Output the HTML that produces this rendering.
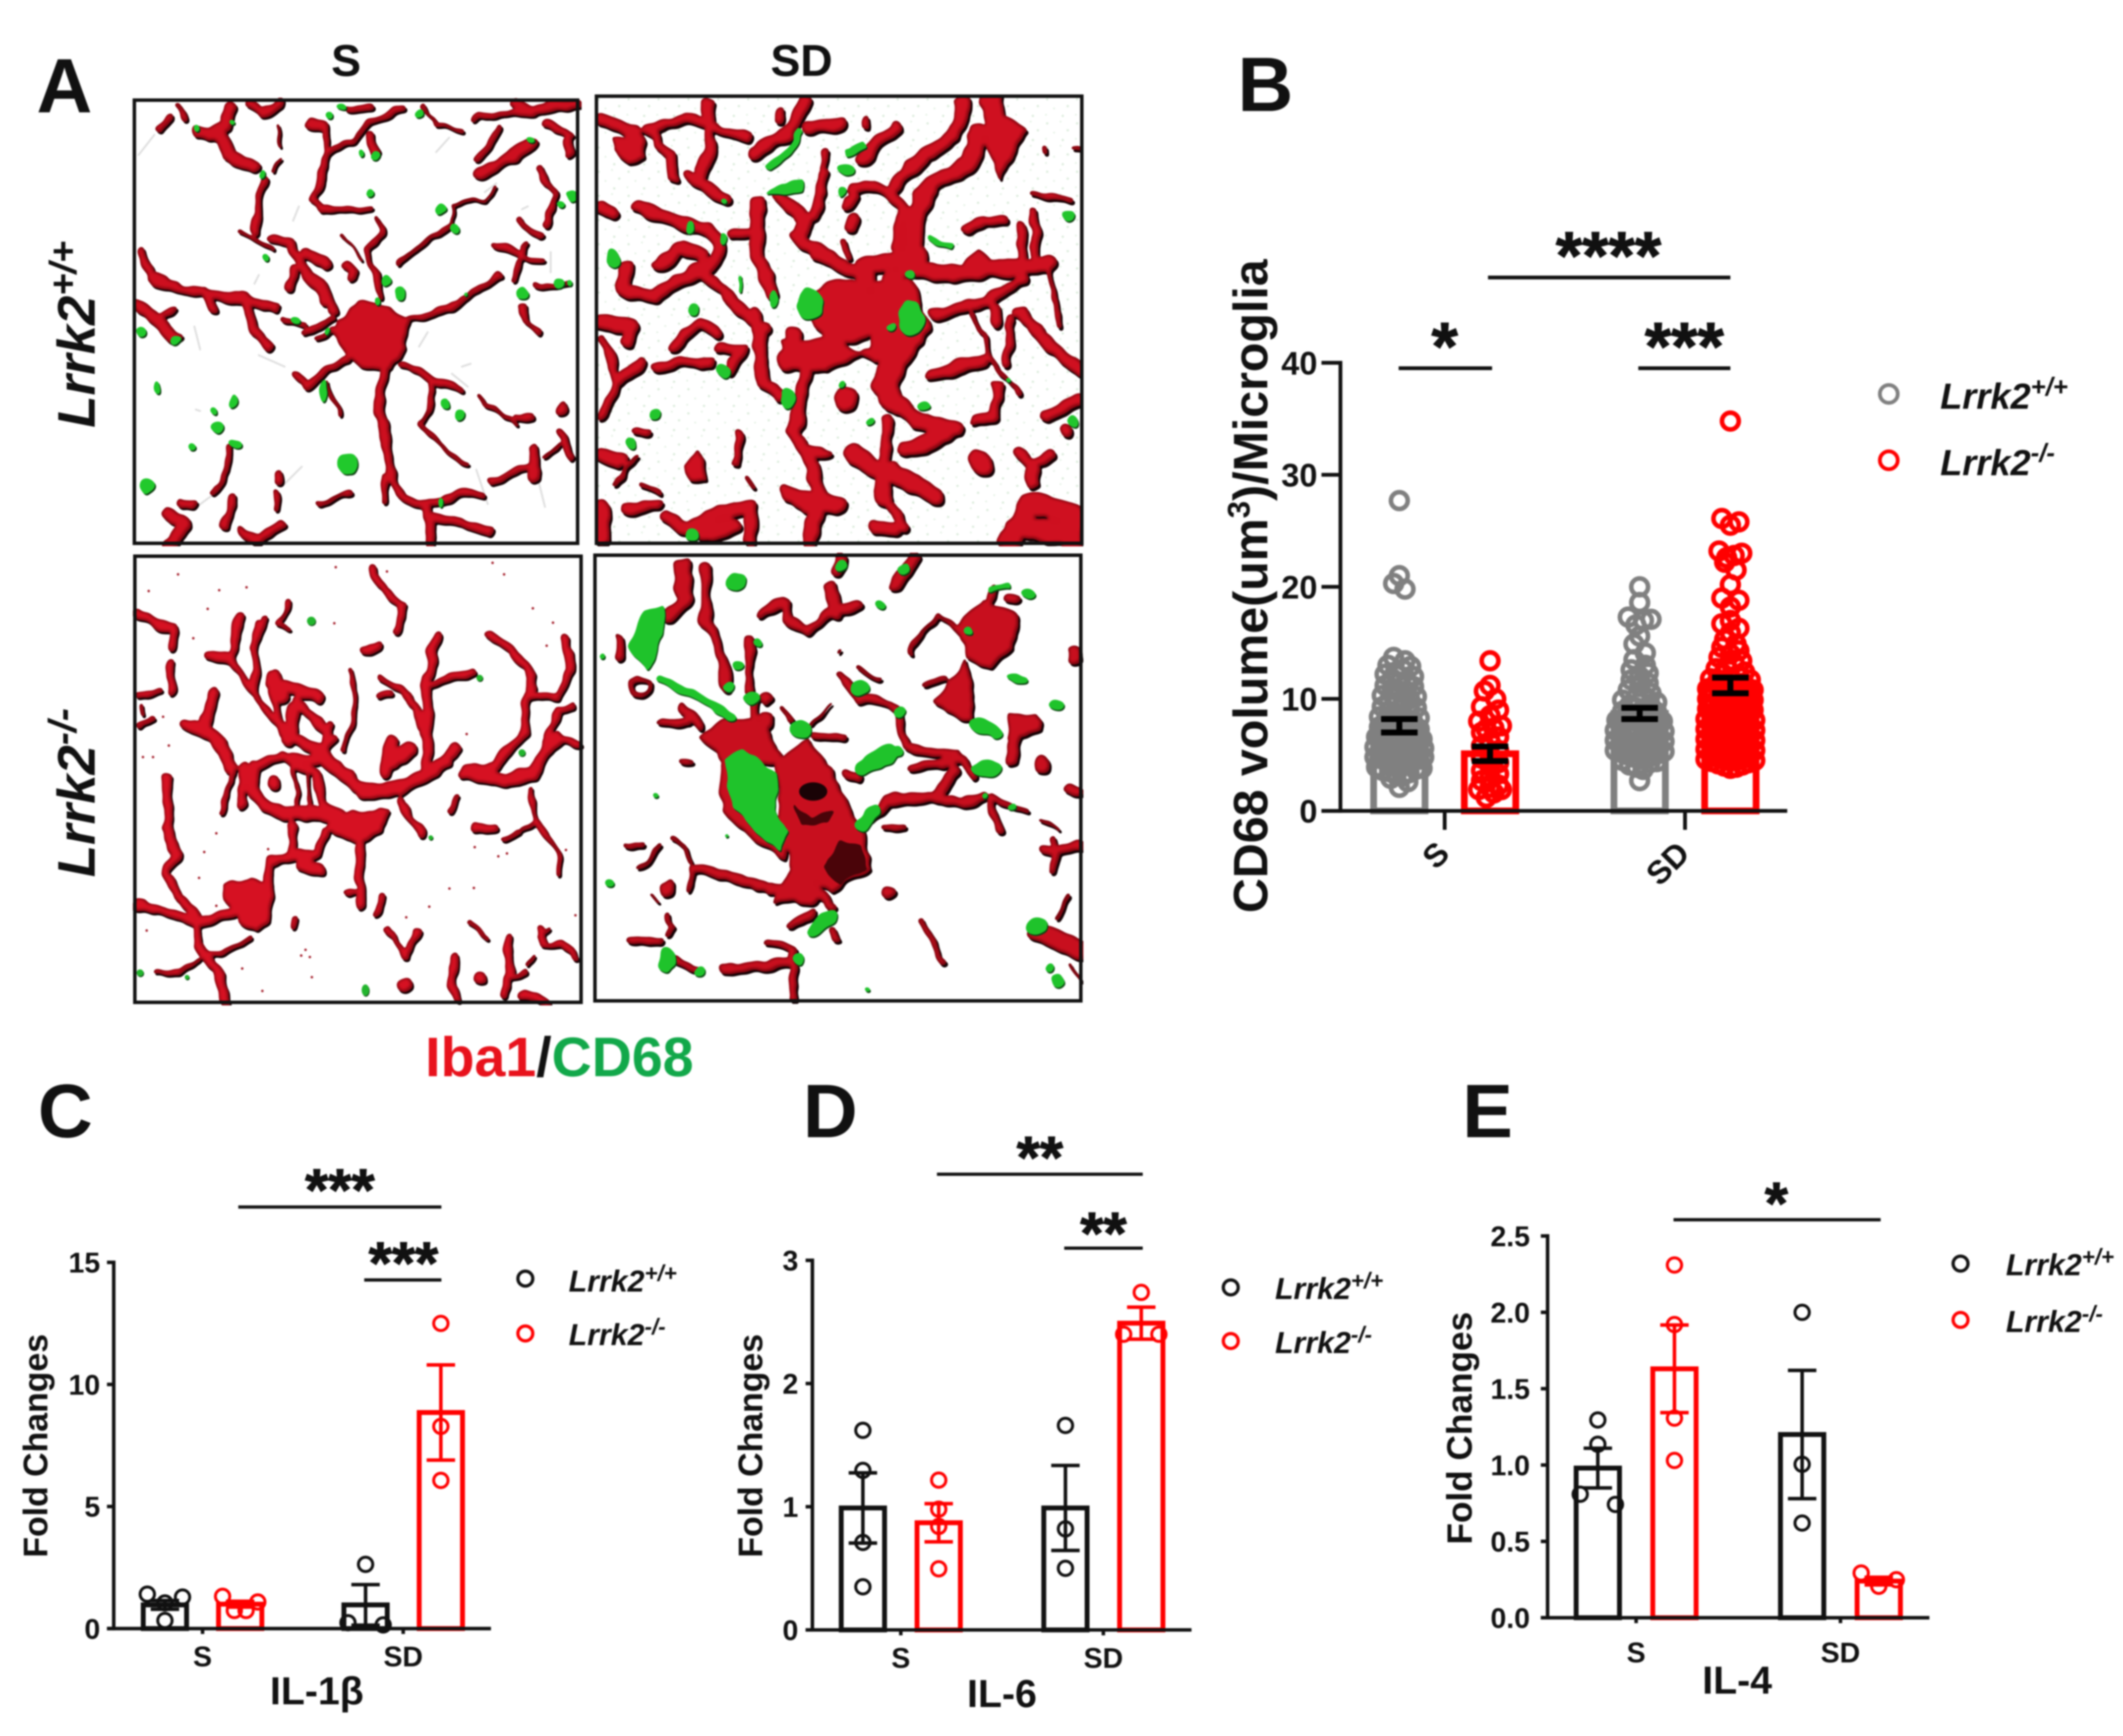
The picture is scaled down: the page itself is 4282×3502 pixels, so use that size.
<!DOCTYPE html>
<html lang="en">
<head>
<meta charset="utf-8">
<title>Microglia Iba1/CD68 figure</title>
<style>
html,body{margin:0;padding:0;background:#fff;}
body{width:4282px;height:3502px;overflow:hidden;}
svg{display:block;filter:blur(1.6px);}
text{font-family:"Liberation Sans",sans-serif;font-weight:bold;fill:#111;}
.it{font-style:italic;}
.star{stroke:#111;stroke-width:0.7;}
</style>
</head>
<body>
<svg id="figure" xmlns="http://www.w3.org/2000/svg" width="4282" height="3502" viewBox="0 0 4282 3502">
<rect width="4282" height="3502" fill="#fff"/>
<defs>
<filter id="organic" filterUnits="userSpaceOnUse" x="-20" y="-20" width="1610" height="1610" color-interpolation-filters="sRGB">
<feTurbulence type="fractalNoise" baseFrequency="0.014" numOctaves="2" seed="4" result="n"/>
<feDisplacementMap in="SourceGraphic" in2="n" scale="34" xChannelSelector="R" yChannelSelector="G" result="d"/>
<feGaussianBlur in="d" stdDeviation="4" result="b"/>
<feComponentTransfer in="b"><feFuncA type="linear" slope="8" intercept="-3"/></feComponentTransfer>
</filter>
<filter id="organicInner" filterUnits="userSpaceOnUse" x="-20" y="-20" width="1610" height="1610" color-interpolation-filters="sRGB">
<feTurbulence type="fractalNoise" baseFrequency="0.014" numOctaves="2" seed="4" result="n"/>
<feDisplacementMap in="SourceGraphic" in2="n" scale="34" xChannelSelector="R" yChannelSelector="G" result="d"/>
<feGaussianBlur in="d" stdDeviation="4" result="b"/>
<feComponentTransfer in="b" result="t"><feFuncA type="linear" slope="8" intercept="-3"/></feComponentTransfer>
<feMorphology in="t" operator="erode" radius="5" result="e"/>
<feGaussianBlur in="e" stdDeviation="4"/>
</filter>
<pattern id="speckGreen" width="96" height="84" patternUnits="userSpaceOnUse">
<circle cx="12" cy="14" r="4" fill="#dcecdc"/><circle cx="55" cy="8" r="3" fill="#e2f0e2"/><circle cx="78" cy="38" r="4" fill="#dcecdc"/><circle cx="34" cy="46" r="3" fill="#e2f0e2"/><circle cx="8" cy="68" r="3" fill="#e2f0e2"/><circle cx="62" cy="72" r="4" fill="#dcecdc"/>
</pattern>
<clipPath id="clip1"><rect x="0" y="0" width="1568" height="1568"/></clipPath>
<clipPath id="clip2"><rect x="0" y="0" width="1568" height="1568"/></clipPath>
<clipPath id="clip3"><rect x="0" y="0" width="1568" height="1568"/></clipPath>
<clipPath id="clip4"><rect x="0" y="0" width="1568" height="1568"/></clipPath>

<g id="p1red" fill="none" stroke="currentColor" stroke-linecap="round" stroke-linejoin="round">
<path fill="currentColor" stroke-width="10" d="M720,780L790,715L900,730L955,790L945,870L900,950L800,940L745,900L705,820Z"/>
<path stroke-width="10" d="M1115,450L1115,370L1230,360L1260,310M800,570L760,520L725,480M505,100L515,170M495,260L515,210M1430,1250L1490,1210"/>
<path stroke-width="15" d="M925,575L1060,480L1115,450M680,1000L730,1110M380,470L490,530M1040,990C1060,1060 1040,1120 1000,1140C1060,1170 1090,1250 1170,1285M1200,1040L1340,1150M1010,30L1060,90L1150,120M1400,655L1530,655M650,1420L755,1385M340,1220L320,1300L280,1390M640,840L700,810"/>
<path stroke-width="20" d="M955,775C1050,760 1130,730 1200,680L1280,625M870,700C860,640 830,600 825,530C860,480 890,470 850,425M700,770L590,830M530,770L600,800M620,80L680,100L680,180L650,300L630,350L660,395L740,385L830,385M680,190L770,150L830,90L940,35M1190,80L1210,60L1400,50M1200,220L1280,110M1420,250L1440,300L1480,340L1440,440M1270,510L1360,550L1430,570M1380,510L1350,570L1330,630M1360,730L1370,780L1420,825M1330,1120L1400,1110M880,1320L880,1410M500,1380L505,1440M150,30L180,75M90,110L130,70M100,770L140,740M740,40L830,35"/>
<path stroke-width="25" d="M430,470C420,400 450,340 465,290M745,920L680,950L610,1010L570,960M940,930L1050,990L1150,1025M740,585L770,600L770,630M1010,1420L1080,1410C1120,1380 1170,1360 1220,1390M1250,1340L1400,1280M1350,430L1420,480M1440,90L1530,130M1490,1170L1540,1260"/>
<path stroke-width="32" d="M880,960C860,1040 850,1100 870,1130C890,1200 890,1280 900,1330C930,1390 960,1410 1010,1420C1040,1470 1040,1520 1040,1560M1040,1470L1150,1480L1240,1520M700,740C680,680 660,640 600,600L550,510L490,490M560,600L545,660M30,530L60,630L180,670L350,700L500,735M380,700L420,800L480,870M250,680L280,740M400,20L450,55L515,20M380,1510L440,1550L520,1490M350,1400L320,1500M170,1420L210,1420M1400,1230L1410,1330M1340,20L1400,40L1550,20M1520,150L1520,200M830,140L850,190M505,1320L505,1335"/>
<path stroke-width="42" d="M610,545L680,580M10,720L100,790L150,840M225,120L300,130L340,200L420,240M340,40L320,100L270,130M620,90L670,100M1215,265L1320,210L1390,160M120,1450L180,1490L130,1560M1500,1085L1502,1088M600,610L670,700"/>
</g>
<g id="p1green" fill="currentColor">
<circle cx="825" cy="325" r="14"/><circle cx="1070" cy="388" r="18"/><circle cx="1125" cy="460" r="15"/><ellipse cx="930" cy="688" rx="15" ry="20"/><circle cx="885" cy="640" r="17"/><circle cx="855" cy="712" r="12"/><circle cx="570" cy="777" r="15"/><ellipse cx="670" cy="1030" rx="15" ry="40"/><circle cx="1090" cy="1068" r="14"/><circle cx="1135" cy="1103" r="20"/><circle cx="750" cy="1280" r="35"/><circle cx="295" cy="1150" r="22"/><ellipse cx="360" cy="1210" rx="20" ry="14"/><ellipse cx="352" cy="1060" rx="12" ry="25"/><circle cx="283" cy="1095" r="12"/><circle cx="205" cy="1220" r="13"/><ellipse cx="85" cy="1015" rx="12" ry="22"/><ellipse cx="55" cy="1355" rx="22" ry="30"/><circle cx="30" cy="820" r="20"/><circle cx="150" cy="850" r="17"/><circle cx="1360" cy="683" r="18"/><circle cx="1490" cy="648" r="18"/><circle cx="1530" cy="655" r="10"/><circle cx="1530" cy="340" r="20"/><circle cx="1495" cy="375" r="12"/><circle cx="1385" cy="148" r="12"/><circle cx="1003" cy="55" r="15"/><circle cx="725" cy="37" r="12"/><circle cx="690" cy="60" r="10"/><circle cx="850" cy="200" r="15"/><circle cx="800" cy="195" r="12"/><circle cx="228" cy="110" r="13"/><circle cx="345" cy="90" r="10"/><circle cx="455" cy="272" r="13"/><circle cx="462" cy="557" r="12"/><ellipse cx="1077" cy="1415" rx="10" ry="18"/><circle cx="1168" cy="690" r="8"/><circle cx="682" cy="813" r="9"/>
</g>
<path id="p1smudge" fill="none" stroke="#e0e0e0" stroke-width="7" stroke-linecap="round" d="M20,200L75,130M440,620L425,650M1060,190L1105,140M1230,330L1270,300M440,900L530,940M1000,870L1030,820M1170,1010L1115,965M1200,1300L1240,1420M530,1350L590,1290M210,1440L290,1380M1420,1350L1440,1430M1460,540L1460,610M560,430L580,380M1150,940L1180,930M1380,380L1360,390M215,800L235,880M220,1090L235,1095"/>

<g id="p2red" fill="none" stroke="currentColor" stroke-linecap="round" stroke-linejoin="round">
<path fill="currentColor" stroke-width="8" d="M1260,40L1380,120L1300,290L1260,170ZM60,150L150,140L160,220L110,235L60,190ZM1190,580L1230,540L1280,590ZM290,1290L330,1240L355,1330L300,1330ZM600,860L760,840L900,930L1010,900L1060,760L1010,640L900,650L880,880L740,960L610,950Z"/>
<path stroke-width="16" d="M1210,760L1290,950L1370,1040M1460,620L1490,800M1410,345L1520,360M150,1355L210,1380M65,1350L130,1260M1530,190L1550,190M870,80L865,120M480,1330L510,1360M1445,180L1445,195"/>
<path stroke-width="24" d="M1340,780L1320,930M1410,400L1420,570M460,1170L450,1280M800,510L820,560M20,850L60,930L70,1000L20,1120M130,1160L170,1170M590,50L590,90M740,200L735,250"/>
<path stroke-width="34" d="M820,320C900,300 960,330 985,400L970,530M1370,450L1380,590M1090,760L1250,720L1370,640M1290,1010L1280,1120L1220,1130M940,1130L930,1280M950,1430L990,1500M660,1220L740,1250M440,480L520,470M360,30L370,180L340,280M170,120L290,80L380,110L490,145M170,120L240,210L250,290M700,420L740,270M80,990L150,930M250,870L340,790L400,830M200,950L280,920L370,930M400,880L480,880L430,950M100,1440L200,1420M1360,1240L1410,1280L1460,1240M1410,1280L1410,1350M1190,470L1250,430L1310,440M1510,1160L1515,1180M830,430L825,460M810,380L830,350"/>
<path stroke-width="44" d="M1180,20C1190,90 1150,160 1060,200L1000,260L960,320M1280,740L1290,790M1080,970L1250,920M680,960L640,1170L700,1290L720,1400L690,1550M520,760L540,1000L590,1040M350,620L470,750L540,810M520,370L520,560L570,690M310,280L350,320L420,360M140,390L300,450L370,470C420,540 400,590 330,610L260,650L190,700L90,670L95,600M280,530L340,560M210,590L260,530M590,345L680,440L650,490L730,560L850,620M510,200L620,130L680,20M690,110L790,100M860,220L960,110M20,85L130,125M20,390L60,405M20,790L120,800L100,860M20,1250L80,1270M1450,1110L1560,1060M1370,760L1450,860L1560,960M610,1380L680,1430M900,1500L960,1510M230,1470L300,1510L400,1450L500,1430L500,1550"/>
<path stroke-width="58" d="M1230,130L1200,240L1080,310L1030,400L1020,520L1000,600M1120,620L1300,600L1450,590M1020,600L1120,620M1040,560L870,590L870,660M830,1240L920,1320L930,1400M960,1060L1040,1130L1160,1160L1000,1230M960,1310L1090,1390M620,1390L780,1430M640,830L640,900M20,1430L20,1540M340,1510L440,1500"/>
<path stroke-width="76" d="M960,640L960,730M1040,800C1000,870 950,930 930,1010L960,1070M760,880L620,920M1330,1550L1400,1420L1530,1450L1530,1550M1400,1510L1490,1520M1270,20L1300,160M805,1050L805,1055M1240,1270L1240,1280"/>
<circle cx="800" cy="750" r="112" fill="currentColor" stroke="none"/>
</g>
<g id="p2green" fill="currentColor">
<ellipse cx="690" cy="725" rx="38" ry="55"/><ellipse cx="1015" cy="775" rx="45" ry="65"/><ellipse cx="60" cy="565" rx="20" ry="40"/><ellipse cx="318" cy="742" rx="20" ry="22"/><ellipse cx="310" cy="462" rx="15" ry="20"/><ellipse cx="410" cy="500" rx="12" ry="25"/><circle cx="408" cy="960" r="22"/><ellipse cx="620" cy="1050" rx="22" ry="35"/><circle cx="195" cy="1108" r="16"/><ellipse cx="112" cy="1205" rx="16" ry="22"/><circle cx="310" cy="1530" r="20"/><path d="M535,345L600,300L660,295L660,340L590,340Z"/><path d="M560,250L620,190L665,120" fill="none" stroke="currentColor" stroke-width="22"/><path d="M810,200L870,170" fill="none" stroke="currentColor" stroke-width="24"/><ellipse cx="810" cy="255" rx="25" ry="18"/><ellipse cx="790" cy="335" rx="12" ry="20"/><ellipse cx="575" cy="705" rx="15" ry="25"/><ellipse cx="1015" cy="620" rx="13" ry="18"/><path d="M1070,490L1150,525" fill="none" stroke="currentColor" stroke-width="20"/><circle cx="1520" cy="418" r="18"/><ellipse cx="1535" cy="1135" rx="15" ry="20"/><circle cx="1325" cy="988" r="10"/><ellipse cx="1060" cy="1080" rx="18" ry="12"/><circle cx="950" cy="812" r="15"/><circle cx="880" cy="1130" r="12"/><circle cx="795" cy="1005" r="10"/><circle cx="410" cy="368" r="10"/><path d="M465,630L465,690" fill="none" stroke="currentColor" stroke-width="10"/>
</g>

<g id="p3red" fill="none" stroke="currentColor" stroke-linecap="round" stroke-linejoin="round">
<path fill="currentColor" stroke-width="12" d="M680,950L760,900L880,890L860,960L790,1000L700,970ZM320,1150L420,1130L480,1160L470,1270L430,1310L370,1270L330,1200Z"/>
<path stroke-width="12" d="M560,730L570,870M610,760L610,880M1350,950L1400,930M1400,1400L1370,1430M1420,1330L1440,1300"/>
<path stroke-width="17" d="M750,400L770,480L760,600L730,680M350,760L310,890M540,170L510,240L550,260M270,1400L410,1340M80,1450L160,1450L230,1410M1380,820L1400,920L1470,1030L1485,1110M1290,990L1340,960M1130,840L1100,900M1170,1280L1230,1340M1310,1470L1360,1450M1420,1300L1430,1360L1490,1350L1540,1400M20,600L70,570M20,490L90,480M30,520L35,550M740,1180L785,1170M560,1265L562,1295"/>
<path stroke-width="25" d="M780,800L660,680L520,620L420,480L340,360L260,350M340,360L370,210M420,480L430,240M420,320L460,230M830,50L870,130L940,180L920,270M130,380L130,480M1040,450L1180,410M1370,490L1480,490L1520,400L1500,290M1440,640L1480,540L1530,530M1490,640L1550,670M870,1190L850,1250M880,1300L950,1400L985,1310M1120,1390L1110,1500L1130,1550M1300,1330L1310,1460L1290,1530M860,430L960,490L1010,600M860,490L890,490M480,440L520,620M530,620L640,700L700,640M550,700L640,720M690,590L660,670"/>
<path stroke-width="32" d="M1150,750L1250,740L1360,620L1370,500M1240,280L1310,330L1390,420L1380,490M1020,740L1020,580L1020,430L1060,280M15,210L140,260L140,320M120,780L120,950L150,1040L120,1110L160,1190L220,1260L230,1360L300,1460L320,1560M15,1220L100,1240L220,1280L340,1250M670,970L640,1040L560,1050L470,1070L470,1150M555,940L550,1040M790,1010L790,1220M930,860L1000,970M1195,950L1255,955M570,510L680,620M420,740L520,700L640,760L660,860L720,910M380,740L380,870M1360,1530L1440,1560M800,330L850,315"/>
<path stroke-width="44" d="M780,810L930,820L1050,750L1120,680M800,830L950,800L1090,720M1150,760L1300,790L1390,760L1440,660L1480,640M880,760L900,650M900,720L960,680M480,440L640,490M540,640L560,540M420,740C400,800 430,870 520,900L650,900L720,930M280,480L240,600L300,650L340,740M190,590L290,640M590,1070L650,1100M1210,1470L1212,1472M940,1500L945,1495M490,790L490,800M500,430L520,500M660,700L780,810"/>
</g>
<g id="p3green" fill="currentColor">
<circle cx="620" cy="232" r="15"/><circle cx="1205" cy="430" r="11"/><circle cx="1352" cy="690" r="12"/><circle cx="1035" cy="985" r="8"/><ellipse cx="808" cy="1515" rx="13" ry="20"/><circle cx="188" cy="1470" r="8"/><circle cx="25" cy="1455" r="12"/>
</g>
<g id="p3dots" fill="none" stroke="#a5222e" stroke-width="9" stroke-linecap="round">
<path d="M157,70h0M55,128h0M395,115h0M300,125h0M260,190h0M210,292h0M105,565h0M125,665h0M35,705h0M70,705h0M230,1125h0M290,1222h0M248,1035h0M290,970h0M470,1025h0M883,60h0M1290,70h0M1460,238h0M1438,318h0M1160,625h0M1100,1162h0M1185,1160h0M1270,1050h0M1300,1040h0M1030,1225h0M950,1262h0M600,1375h0M615,1400h0M585,1395h0M622,1470h0M48,1308h0M380,1440h0M450,1518h0M1188,1018h0M1505,1028h0M1538,1255h0M705,45h0M1250,30h0M1390,188h0M700,240h0"/>
</g>

<g id="p4red" fill="none" stroke="currentColor" stroke-linecap="round" stroke-linejoin="round">
<path fill="currentColor" stroke-width="8" d="M590,730L690,650L780,800L860,960L885,1090L760,1180L640,1080L600,950ZM340,640L430,580L530,580L610,720L420,740ZM1170,250L1250,160L1360,220L1340,330L1280,390L1200,370ZM1100,510L1190,380L1210,460L1210,580L1130,550ZM1330,560L1420,560L1430,620L1360,640L1330,640ZM610,950L660,1070L720,1190L580,1220L640,1100ZM410,740L420,900L530,1010L610,1060L620,960L450,760Z"/>
<path stroke-width="10" d="M700,600L755,530M190,1190L210,1215M790,340L785,350M1430,930L1490,970M1530,1430L1560,1490"/>
<path stroke-width="16" d="M1020,350L1050,270L1110,210L1190,290L1230,340M1060,460L1130,440M850,400L920,440M320,1100L310,1170M110,1012L160,1020M155,1100L215,1020M260,990L320,1070M240,1260L260,1300L245,1330M1050,1280L1120,1420M1280,850L1390,900M1480,1270L1520,1200M610,540L640,585M935,955L990,960M285,725L315,725"/>
<path stroke-width="25" d="M790,420L860,510L950,520L980,560L1000,680L1130,700L1170,700L1220,780M220,590L310,590M280,540L350,600M500,300L500,480M520,510L520,570M1250,230L1280,130M1020,745L1180,720M1270,850L1300,960M115,1345L220,1350M270,1420L340,1455M560,1350L640,1380L640,1550M710,635L800,640M810,770L850,780M1470,1000L1470,1100M1520,820L1560,830M85,290L85,360M770,1310L780,1340"/>
<path stroke-width="32" d="M360,50L360,230L400,320L430,470M540,210L610,170L620,230L680,270L760,210L850,180M880,930L940,860L1080,850L1180,870L1240,850M330,1095L430,1120L570,1170L700,1190M420,1445L620,1430M640,1290L700,1250M1440,1035L1560,1020M1350,640L1340,730M1340,160L1350,165M680,1130L760,1230"/>
<path stroke-width="44" d="M290,40L290,170L240,220M760,120L780,210M790,20L780,60M960,110L1030,20M1150,760L1100,850M555,505L557,507M555,570L555,590M1535,340L1535,365M1435,725L1435,745M945,1175L945,1185M240,1165L240,1175M570,1170L700,1200"/>
<path stroke-width="60" d="M1430,1320L1560,1380"/>
<ellipse cx="150" cy="465" rx="35" ry="30" stroke-width="15"/>
</g>
<path id="p4shade" fill="currentColor" d="M790,1000L860,1020L875,1090L790,1160L740,1090ZM640,870L700,920L770,900L750,945L670,950Z"/>
<g id="p4green" fill="currentColor">
<path d="M420,720L480,680L590,760L580,900L620,970L600,1040L540,990L450,880Z"/><path d="M110,320L170,200L230,180L220,310L180,410L130,360Z"/><path d="M215,440L320,490L440,570" fill="none" stroke="currentColor" stroke-width="26" stroke-linecap="round"/><ellipse cx="460" cy="100" rx="28" ry="30"/><circle cx="790" cy="45" r="20"/><circle cx="995" cy="55" r="20"/><circle cx="925" cy="185" r="15"/><circle cx="525" cy="310" r="15"/><circle cx="462" cy="402" r="18"/><circle cx="438" cy="465" r="18"/><circle cx="510" cy="505" r="25"/><circle cx="670" cy="615" r="32"/><circle cx="855" cy="470" r="25"/><circle cx="980" cy="555" r="18"/><path d="M860,750L940,700" fill="none" stroke="currentColor" stroke-width="50" stroke-linecap="round"/><circle cx="970" cy="695" r="15"/><path d="M1225,595L1285,625" fill="none" stroke="currentColor" stroke-width="40" stroke-linecap="round"/><ellipse cx="1260" cy="750" rx="50" ry="30"/><ellipse cx="1360" cy="437" rx="38" ry="15"/><circle cx="1480" cy="525" r="22"/><circle cx="1390" cy="142" r="20"/><circle cx="1205" cy="270" r="14"/><path d="M865,950L895,895" fill="none" stroke="currentColor" stroke-width="44" stroke-linecap="round"/><path d="M710,1305L760,1265" fill="none" stroke="currentColor" stroke-width="46" stroke-linecap="round"/><ellipse cx="240" cy="1420" rx="30" ry="45"/><circle cx="340" cy="1458" r="20"/><ellipse cx="660" cy="1410" rx="15" ry="22"/><ellipse cx="1420" cy="1295" rx="25" ry="32"/><ellipse cx="1490" cy="1485" rx="18" ry="22"/><circle cx="1458" cy="1445" r="15"/><circle cx="1340" cy="878" r="12"/><circle cx="1245" cy="848" r="10"/><circle cx="200" cy="845" r="10"/><circle cx="428" cy="978" r="8"/><circle cx="55" cy="1152" r="15"/><circle cx="30" cy="360" r="10"/><circle cx="875" cy="1515" r="8"/><path d="M1265,130L1340,120" fill="none" stroke="currentColor" stroke-width="14"/>
</g>
</defs>

<!-- Panel A micrographs -->
<g transform="translate(268,197) scale(0.5772)">
<g clip-path="url(#clip1)">
<use href="#p1smudge"/>
<use href="#p1red" color="#1a0306" filter="url(#organic)" transform="translate(6,7)"/>
<use href="#p1red" color="#860711" filter="url(#organic)"/>
<use href="#p1red" color="#cd0f1f" filter="url(#organicInner)" transform="translate(-2,-2)"/>
<use href="#p1green" color="#0d3b10" filter="url(#organic)" transform="translate(4,5)"/>
<use href="#p1green" color="#21c92c" filter="url(#organic)"/>
</g>
</g>
<rect x="271" y="202" width="894" height="894" fill="none" stroke="#111" stroke-width="7"/>

<g transform="translate(1200,192) scale(0.6282,0.5804)">
<g clip-path="url(#clip2)">
<rect width="1568" height="1568" fill="url(#speckGreen)"/>
<use href="#p2red" color="#1a0306" filter="url(#organic)" transform="translate(6,9)"/>
<use href="#p2red" color="#860711" filter="url(#organic)"/>
<use href="#p2red" color="#cf1020" filter="url(#organicInner)" transform="translate(-2,-2)"/>
<use href="#p2green" color="#0d3b10" filter="url(#organic)" transform="translate(3,5)"/>
<use href="#p2green" color="#22c52d" filter="url(#organic)"/>
</g>
</g>
<rect x="1203" y="194" width="979" height="902" fill="none" stroke="#111" stroke-width="7"/>

<g transform="translate(268,1118) scale(0.5804)">
<g clip-path="url(#clip3)">
<use href="#p3dots"/>
<use href="#p3red" color="#1a0306" filter="url(#organic)" transform="translate(5,7)"/>
<use href="#p3red" color="#8c0813" filter="url(#organic)"/>
<use href="#p3red" color="#d61122" filter="url(#organicInner)" transform="translate(-2,-2)"/>
<use href="#p3green" color="#0d3b10" transform="translate(2,3)"/>
<use href="#p3green" color="#22b52d"/>
</g>
</g>
<rect x="272" y="1122" width="900" height="900" fill="none" stroke="#111" stroke-width="7"/>

<g transform="translate(1195,1115) scale(0.6314,0.5804)">
<g clip-path="url(#clip4)">
<use href="#p4red" color="#160205" filter="url(#organic)" transform="translate(6,8)"/>
<use href="#p4red" color="#7e0610" filter="url(#organic)"/>
<use href="#p4red" color="#c80f1e" filter="url(#organicInner)" transform="translate(-2,-2)"/>
<use href="#p4shade" color="#4a0409" filter="url(#organic)"/>
<use href="#p4green" color="#0b4210" filter="url(#organic)" transform="translate(3,5)"/>
<use href="#p4green" color="#1fc32b" filter="url(#organic)"/>
<ellipse cx="705" cy="830" rx="45" ry="32" fill="#1a0306"/>
</g>
</g>
<rect x="1200" y="1120" width="980" height="899" fill="none" stroke="#111" stroke-width="7"/>

<g id="charts" transform="scale(2.7309)">
<text x="27" y="83" font-size="57">A</text>
<text x="914" y="82" font-size="57">B</text>
<text x="28" y="840" font-size="56">C</text>
<text x="593" y="840" font-size="56">D</text>
<text x="1080" y="840" font-size="56">E</text>

<text x="255.6" y="56" font-size="33" text-anchor="middle">S</text>
<text x="592" y="56" font-size="33" text-anchor="middle">SD</text>

<text class="it" transform="translate(70,316) rotate(-90)" font-size="39">Lrrk2<tspan dy="-14" font-size="28">+/+</tspan></text>
<text class="it" transform="translate(70,648) rotate(-90)" font-size="39">Lrrk2<tspan dy="-14" font-size="29">-/-</tspan></text>

<text x="314" y="795" font-size="41"><tspan style="fill:#e8121c">Iba1</tspan><tspan>/</tspan><tspan style="fill:#12a84a">CD68</tspan></text>

<!-- B: titles, legend, significance -->
<text transform="translate(936,433) rotate(-90)" font-size="35.7" text-anchor="middle">CD68 volume(um<tspan dy="-13" font-size="23">3</tspan><tspan dy="13">)/Microglia</tspan></text>
<g>
<circle cx="1395" cy="291" r="6.6" fill="none" stroke="#808080" stroke-width="2.8"/>
<circle cx="1395" cy="340" r="6.6" fill="none" stroke="#f00" stroke-width="2.8"/>
<text class="it" x="1433" y="302" font-size="26.7">Lrrk2<tspan dy="-10" font-size="19">+/+</tspan></text>
<text class="it" x="1433" y="351" font-size="26.7">Lrrk2<tspan dy="-10" font-size="19">-/-</tspan></text>
</g>
<g stroke="#111" stroke-width="2.8">
<line x1="1099" x2="1278" y1="205" y2="205"/>
<line x1="1033" x2="1102" y1="272" y2="272"/>
<line x1="1210" x2="1278" y1="272" y2="272"/>
</g>
<text class="star" x="1188" y="206" font-size="50" text-anchor="middle">****</text>
<text class="star" x="1067" y="273" font-size="50" text-anchor="middle">*</text>
<text class="star" x="1244" y="273" font-size="50" text-anchor="middle">***</text>

<!-- C -->
<text transform="translate(35,1068) rotate(-90)" font-size="25" text-anchor="middle">Fold Changes</text>
<text x="234" y="1259" font-size="29" text-anchor="middle">IL-1β</text>
<g>
<circle cx="388" cy="944.5" r="5.5" fill="none" stroke="#111" stroke-width="2.4"/>
<circle cx="388" cy="985" r="5.5" fill="none" stroke="#f00" stroke-width="2.4"/>
<text class="it" x="420" y="954" font-size="22.4">Lrrk2<tspan dy="-8" font-size="16.5">+/+</tspan></text>
<text class="it" x="420" y="993.6" font-size="22.4">Lrrk2<tspan dy="-8" font-size="16.5">-/-</tspan></text>
</g>
<g stroke="#111" stroke-width="2.4">
<line x1="176" x2="326" y1="891.6" y2="891.6"/>
<line x1="269" x2="326" y1="945.5" y2="945.5"/>
</g>
<text class="star" x="251" y="894" font-size="44" text-anchor="middle">***</text>
<text class="star" x="298" y="948" font-size="44" text-anchor="middle">***</text>

<!-- D -->
<text transform="translate(563,1068) rotate(-90)" font-size="25" text-anchor="middle">Fold Changes</text>
<text x="740" y="1261" font-size="29" text-anchor="middle">IL-6</text>
<g>
<circle cx="909" cy="951" r="5.5" fill="none" stroke="#111" stroke-width="2.4"/>
<circle cx="909" cy="990.6" r="5.5" fill="none" stroke="#f00" stroke-width="2.4"/>
<text class="it" x="941.7" y="959.6" font-size="22.4">Lrrk2<tspan dy="-8" font-size="16.5">+/+</tspan></text>
<text class="it" x="941.7" y="999.5" font-size="22.4">Lrrk2<tspan dy="-8" font-size="16.5">-/-</tspan></text>
</g>
<g stroke="#111" stroke-width="2.4">
<line x1="692" x2="844" y1="867.4" y2="867.4"/>
<line x1="786" x2="844" y1="922" y2="922"/>
</g>
<text class="star" x="768" y="870" font-size="44" text-anchor="middle">**</text>
<text class="star" x="815" y="926" font-size="44" text-anchor="middle">**</text>

<!-- E -->
<text transform="translate(1087,1055) rotate(-90)" font-size="26" text-anchor="middle">Fold Changes</text>
<text x="1283" y="1251" font-size="29" text-anchor="middle">IL-4</text>
<g>
<circle cx="1448" cy="933.4" r="5.5" fill="none" stroke="#111" stroke-width="2.4"/>
<circle cx="1448" cy="975" r="5.5" fill="none" stroke="#f00" stroke-width="2.4"/>
<text class="it" x="1481.5" y="942" font-size="22.4">Lrrk2<tspan dy="-8" font-size="16.5">+/+</tspan></text>
<text class="it" x="1481.5" y="984" font-size="22.4">Lrrk2<tspan dy="-8" font-size="16.5">-/-</tspan></text>
</g>
<g stroke="#111" stroke-width="2.4">
<line x1="1236" x2="1389" y1="901" y2="901"/>
</g>
<text class="star" x="1312" y="904" font-size="44" text-anchor="middle">*</text>

<g id="plots"></g>
</g>
</svg>

<script>
const groupNames = ['S', 'SD'];

/* Panel B */
const bTickValues = [0, 10, 20, 30, 40];
const bTickLabels = ['0', '10', '20', '30', '40'];
const bWildtypeMean = [7.6, 8.7];
const bKnockoutMean = [5.1, 11.2];
const bWildtypeSem = [0.6, 0.5];
const bKnockoutSem = [0.65, 0.7];
const bWildtypePointsS = [27.7,21,20.3,19.8,13.7,13.4,13,12.9,12.6,12.4,12.2,12,11.8,11.6,11.5,11.2,11.1,10.9,10.7,10.6,10.3,10.2,10,9.8,9.7,9.5,9.3,9.2,9,8.9,8.7,8.6,8.4,8.3,8.1,8,7.9,7.7,7.6,7.5,7.3,7.2,7.1,6.9,6.8,6.7,6.6,6.4,6.3,6.2,6.1,6,5.9,5.8,5.7,5.6,5.5,5.4,5.3,5.2,5.1,5,5,4.9,4.8,4.8,4.7,4.6,4.5,4.5,4.4,4.3,4.2,4.1,4,3.9,3.8,3.7,3.6,3.5,3.4,3.2,3.1,2.9,2.6,2.1];
const bKnockoutPointsS = [13.4,11.2,10.7,10,9.3,9,8.5,8,7.6,7.4,7.3,7,6.6,6.2,5.8,5.4,5,4.7,4.3,4,3.6,3.3,3,2.7,2.3,2.1,1.9,1.9,1.6,1.2];
const bWildtypePointsSD = [20,18.6,17.3,17.1,17,16.6,15.6,14.9,14.1,13.5,13,12.6,12.3,12,11.7,11.4,11.1,10.8,10.5,10.3,10.1,9.9,9.7,9.5,9.4,9.2,9.1,8.9,8.8,8.6,8.5,8.4,8.2,8.1,8,7.9,7.7,7.6,7.5,7.4,7.3,7.2,7.1,7,6.9,6.8,6.7,6.6,6.5,6.4,6.3,6.2,6.1,6,5.9,5.8,5.7,5.6,5.5,5.4,5.3,5.2,5.1,5,4.9,4.8,4.7,4.6,4.5,4.4,4.3,4.1,3.9,3.7,2.7];
const bKnockoutPointsSD = [34.8,26.1,25.8,25.5,23.2,23,22.8,22.6,22.2,21.5,20.2,19,18.8,18.2,17,16.7,16.3,15.9,15.3,14.9,14.6,14.3,14,13.7,13.4,13.2,12.9,12.7,12.4,12.2,12.1,11.9,11.8,11.7,11.5,11.4,11.3,11.1,11,10.9,10.8,10.7,10.5,10.4,10.3,10.2,10.1,10,9.9,9.8,9.7,9.6,9.4,9.3,9.2,9.1,9,8.9,8.8,8.7,8.6,8.4,8.3,8.2,8.1,8,7.9,7.8,7.7,7.6,7.5,7.4,7.3,7.2,7.1,7,6.9,6.8,6.7,6.6,6.5,6.4,6.3,6.2,6.1,6,5.9,5.8,5.7,5.6,5.5,5.4,5.3,5.2,5.1,5,4.9,4.8,4.7,4.6,4.5,4.4,4.3,4.2,4.1,4,3.9,3.8];

/* Panel C: IL-1beta */
const cTickValues = [0, 5, 10, 15];
const cTickLabels = ['0', '5', '10', '15'];
const cWildtypeMean = [0.97, 0.97];
const cKnockoutMean = [1, 8.85];
const cWildtypeSem = [0.18, 0.83];
const cKnockoutSem = [0.12, 1.95];
const cWildtypePointsS = [1.41, 1.05, 1.29, 0.33];
const cKnockoutPointsS = [1.32, 0.74, 0.74, 1.09];
const cWildtypePointsSD = [2.63, 0.15, 0.24];
const cKnockoutPointsSD = [12.5, 8.28, 6.07];

/* Panel D: IL-6 */
const dTickValues = [0, 1, 2, 3];
const dTickLabels = ['0', '1', '2', '3'];
const dWildtypeMean = [0.99, 0.99];
const dKnockoutMean = [0.87, 2.49];
const dWildtypeSem = [0.285, 0.345];
const dKnockoutSem = [0.155, 0.13];
const dWildtypePointsS = [1.62, 1.295, 0.71, 0.35];
const dKnockoutPointsS = [1.216, 0.98, 0.84, 0.496];
const dWildtypePointsSD = [1.66, 0.82, 0.5];
const dKnockoutPointsSD = [2.74, 2.4, 2.4];

/* Panel E: IL-4 */
const eTickValues = [0, 0.5, 1, 1.5, 2, 2.5];
const eTickLabels = ['0.0', '0.5', '1.0', '1.5', '2.0', '2.5'];
const eWildtypeMean = [0.98, 1.2];
const eKnockoutMean = [1.63, 0.24];
const eWildtypeSem = [0.13, 0.42];
const eKnockoutSem = [0.287, 0.025];
const eWildtypePointsS = [1.295, 1.136, 0.809, 0.742];
const eKnockoutPointsS = [2.31, 1.92, 1.307, 1.03];
const eWildtypePointsSD = [2.0, 1.005, 0.62];
const eKnockoutPointsSD = [0.293, 0.249, 0.206];

const SVGNS = 'http://www.w3.org/2000/svg';
const plotsRoot = document.getElementById('plots');

function mk(parent, tag, attrs) {
  const el = document.createElementNS(SVGNS, tag);
  for (const k in attrs) el.setAttribute(k, attrs[k]);
  parent.appendChild(el);
  return el;
}

function linearScale(d0, d1, r0, r1) {
  return v => r0 + (v - d0) / (d1 - d0) * (r1 - r0);
}

/* Spread points that sit close together into a small swarm. */
function swarm(values, y, threshold, widthFor) {
  const sorted = values.slice().sort((a, b) => a - b);
  const out = [];
  let i = 0;
  while (i < sorted.length) {
    let j = i;
    while (j + 1 < sorted.length && Math.abs(y(sorted[j + 1]) - y(sorted[i])) <= threshold) j++;
    const n = j - i + 1;
    const w = widthFor(n);
    const slots = [];
    for (let k = 0; k < n; k++) slots.push(n === 1 ? 0 : -w + 2 * w * k / (n - 1));
    slots.sort((a, b) => Math.abs(a) - Math.abs(b) || b - a);
    for (let k = 0; k < n; k++) out.push({ value: sorted[i + k], dx: slots[k] });
    i = j + 1;
  }
  return out;
}

function drawPlot(p) {
  const g = mk(plotsRoot, 'g', {});
  
  
  const y = linearScale(0, p.yMax, p.y0, p.yTop);
  const groupX = i => p.firstTick + i * p.tickStep;
  const seriesX = (i, s) => groupX(i) + (s === 0 ? -p.barOffset : p.barOffset);
  const colors = [p.wildtypeColor, '#f00'];
  const means = [p.wildtypeMean, p.knockoutMean];
  const sems = [p.wildtypeSem, p.knockoutSem];
  const points = [p.wildtypePoints, p.knockoutPoints];
  const seriesNames = ['wildtype', 'knockout'];

  for (let s = 0; s < 2; s++) {
    for (let i = 0; i < groupNames.length; i++) {
      const cx = seriesX(i, s);
      const bar = mk(g, 'rect', { x: cx - p.barWidth / 2, y: y(means[s][i]), width: p.barWidth, height: y(0) - y(means[s][i]), fill: 'none', stroke: colors[s], 'stroke-width': p.barStroke });
      
      

      const placed = swarm(points[s][i], y, p.swarmThreshold, p.swarmWidth);
      for (const pt of placed) {
        const c = mk(g, 'circle', { cx: cx + pt.dx, cy: y(pt.value), r: p.pointR, fill: p.pointFill, stroke: colors[s], 'stroke-width': p.pointStroke });
        
        
      }

      const errColor = p.errorColor || colors[s];
      const hi = y(means[s][i] + sems[s][i]);
      const lo = y(means[s][i] - sems[s][i]);
      const err = mk(g, 'path', { d: 'M' + (cx - p.capWidth / 2) + ',' + hi + 'H' + (cx + p.capWidth / 2) + 'M' + cx + ',' + hi + 'V' + lo + 'M' + (cx - p.capWidth / 2) + ',' + lo + 'H' + (cx + p.capWidth / 2), fill: 'none', stroke: errColor, 'stroke-width': p.errorStroke });
      
      
    }
  }

  const yAxis = mk(g, 'line', { x1: p.axisX, x2: p.axisX, y1: p.yTop - p.axisStroke / 2, y2: y(0) + p.axisStroke / 2, stroke: '#111', 'stroke-width': p.axisStroke });
  
  

  const xAxis = mk(g, 'line', { x1: p.axisX - p.yTickLen, x2: p.xEnd, y1: y(0), y2: y(0), stroke: '#111', 'stroke-width': p.axisStroke });
  
  

  p.tickValues.forEach((v, i) => {
    const t = mk(g, 'line', { x1: p.axisX - p.yTickLen, x2: p.axisX, y1: y(v), y2: y(v), stroke: '#111', 'stroke-width': p.axisStroke });
    
    
    const lab = mk(g, 'text', { x: p.yLabelX, y: y(v) + p.tickFont * 0.36, 'font-size': p.tickFont, 'text-anchor': 'end' });
    
    
    lab.textContent = p.tickLabels[i];
  });

  groupNames.forEach((name, i) => {
    const t = mk(g, 'line', { x1: groupX(i), x2: groupX(i), y1: y(0), y2: y(0) + p.xTickLen, stroke: '#111', 'stroke-width': p.axisStroke });
    
    
    const attrs = p.rotateX
      ? { transform: 'translate(' + (groupX(i) - 1) + ',' + p.xLabelY + ') rotate(-45)', 'font-size': p.tickFont, 'text-anchor': 'end', 'dominant-baseline': 'central' }
      : { x: groupX(i), y: p.xLabelY, 'font-size': p.tickFont, 'text-anchor': 'middle' };
    const lab = mk(g, 'text', attrs);
    
    
    lab.textContent = name;
  });
}

const narrowSwarm = () => 13;

drawPlot({
  id: 'b', axisX: 990, y0: 599, yTop: 268, yMax: 40, xEnd: 1320,
  firstTick: 1067, tickStep: 177.5, barOffset: 33.5, barWidth: 38,
  barStroke: 5, axisStroke: 2.8, yTickLen: 14, xTickLen: 14,
  tickValues: bTickValues, tickLabels: bTickLabels, tickFont: 24, yLabelX: 973,
  xLabelY: 626, rotateX: true,
  wildtypeColor: '#808080', errorColor: '#000', errorStroke: 4.4, capWidth: 27,
  wildtypeMean: bWildtypeMean, knockoutMean: bKnockoutMean,
  wildtypeSem: bWildtypeSem, knockoutSem: bKnockoutSem,
  wildtypePoints: [bWildtypePointsS, bWildtypePointsSD],
  knockoutPoints: [bKnockoutPointsS, bKnockoutPointsSD],
  pointR: 6.2, pointStroke: 3.4, pointFill: 'none',
  swarmThreshold: 7, swarmWidth: n => Math.min(18, 2.1 * n)
});

drawPlot({
  id: 'c', axisX: 84, y0: 1203, yTop: 932.5, yMax: 15, xEnd: 362.6,
  firstTick: 149.6, tickStep: 148.2, barOffset: 27.8, barWidth: 32,
  barStroke: 3.6, axisStroke: 2.6, yTickLen: 5, xTickLen: 4,
  tickValues: cTickValues, tickLabels: cTickLabels, tickFont: 21, yLabelX: 74,
  xLabelY: 1231,
  wildtypeColor: '#111', errorStroke: 2.6, capWidth: 21,
  wildtypeMean: cWildtypeMean, knockoutMean: cKnockoutMean,
  wildtypeSem: cWildtypeSem, knockoutSem: cKnockoutSem,
  wildtypePoints: [cWildtypePointsS, cWildtypePointsSD],
  knockoutPoints: [cKnockoutPointsS, cKnockoutPointsSD],
  pointR: 5.3, pointStroke: 2.2, pointFill: 'none',
  swarmThreshold: 11, swarmWidth: narrowSwarm
});

drawPlot({
  id: 'd', axisX: 600, y0: 1204, yTop: 931, yMax: 3, xEnd: 880,
  firstTick: 665.3, tickStep: 149.6, barOffset: 28, barWidth: 32,
  barStroke: 3.6, axisStroke: 2.6, yTickLen: 5, xTickLen: 4,
  tickValues: dTickValues, tickLabels: dTickLabels, tickFont: 21, yLabelX: 589.6,
  xLabelY: 1232,
  wildtypeColor: '#111', errorStroke: 2.6, capWidth: 21,
  wildtypeMean: dWildtypeMean, knockoutMean: dKnockoutMean,
  wildtypeSem: dWildtypeSem, knockoutSem: dKnockoutSem,
  wildtypePoints: [dWildtypePointsS, dWildtypePointsSD],
  knockoutPoints: [dKnockoutPointsS, dKnockoutPointsSD],
  pointR: 5.3, pointStroke: 2.2, pointFill: 'none',
  swarmThreshold: 11, swarmWidth: narrowSwarm
});

drawPlot({
  id: 'e', axisX: 1143, y0: 1195, yTop: 913, yMax: 2.5, xEnd: 1425,
  firstTick: 1208.4, tickStep: 150.9, barOffset: 28.3, barWidth: 32,
  barStroke: 3.6, axisStroke: 2.6, yTickLen: 5, xTickLen: 4,
  tickValues: eTickValues, tickLabels: eTickLabels, tickFont: 21, yLabelX: 1130,
  xLabelY: 1228,
  wildtypeColor: '#111', errorStroke: 2.6, capWidth: 21,
  wildtypeMean: eWildtypeMean, knockoutMean: eKnockoutMean,
  wildtypeSem: eWildtypeSem, knockoutSem: eKnockoutSem,
  wildtypePoints: [eWildtypePointsS, eWildtypePointsSD],
  knockoutPoints: [eKnockoutPointsS, eKnockoutPointsSD],
  pointR: 5.3, pointStroke: 2.2, pointFill: 'none',
  swarmThreshold: 11, swarmWidth: narrowSwarm
});
</script>
</body>
</html>
